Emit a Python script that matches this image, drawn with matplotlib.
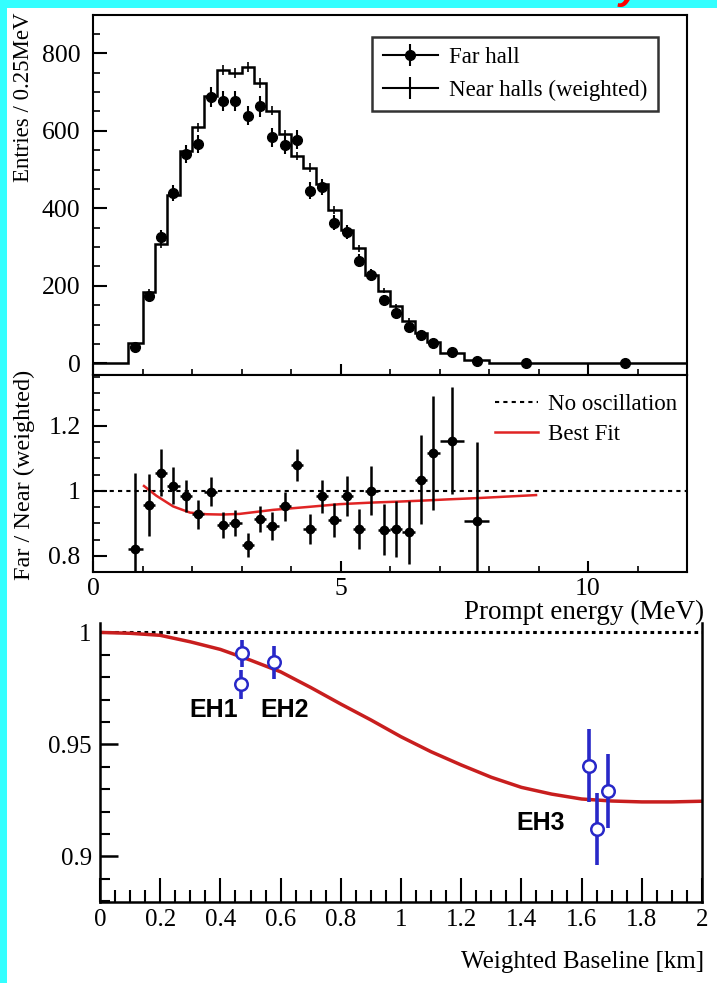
import matplotlib.pyplot as plt
from matplotlib.patches import Rectangle
from matplotlib.lines import Line2D
from matplotlib.ticker import MultipleLocator, FuncFormatter
import numpy as np

plt.rcParams['font.family'] = ['Liberation Serif', 'DejaVu Serif']

# --- spectrum (top panel) ---
bin_edges = [0.7, 1.0, 1.25, 1.5, 1.75, 2.0, 2.25, 2.5, 2.75, 3.0, 3.25, 3.5, 3.75,
             4.0, 4.25, 4.5, 4.75, 5.0, 5.25, 5.5, 5.75, 6.0, 6.25, 6.5, 6.75,
             7.0, 7.5, 8.0, 9.5, 12.0]
far_counts = [43, 175, 325, 439, 540, 566, 687, 676, 676, 639, 663, 583, 564, 577,
              446, 456, 363, 338, 265, 228, 164, 130, 95, 74, 52, 30, 7, 1, 0.5]
far_err = [7, 13, 18, 21, 23, 24, 26, 26, 26, 25, 26, 24, 24, 24, 21, 21, 19, 18,
           16, 15, 13, 11, 10, 9, 7, 5, 3, 1, 0.5]
near_counts = [52, 184, 308, 435, 548, 609, 689, 756, 749, 764, 723, 652, 591, 535,
               505, 463, 396, 343, 297, 228, 188, 147, 110, 79, 56, 28, 8, 2, 0.5]
near_err = [4, 8, 10, 11, 12, 12, 13, 13, 13, 13, 13, 12, 12, 11, 11, 11, 10, 9,
            9, 8, 7, 6, 6, 5, 4, 3, 2, 1, 0.5]

# --- far/near ratio (middle panel) ---
ratio_vals = [0.821, 0.957, 1.056, 1.016, 0.985, 0.928, 0.998, 0.895, 0.900, 0.832,
              0.914, 0.892, 0.952, 1.080, 0.883, 0.983, 0.911, 0.985, 0.883, 1.001,
              0.880, 0.882, 0.872, 1.034, 1.116, 1.155, 0.906]
ratio_err = [0.235, 0.096, 0.073, 0.058, 0.049, 0.045, 0.045, 0.040, 0.040, 0.037,
             0.040, 0.042, 0.046, 0.050, 0.046, 0.051, 0.053, 0.061, 0.062, 0.075,
             0.078, 0.086, 0.097, 0.137, 0.176, 0.165, 0.245]
fit_energy = [1.03, 1.28, 1.62, 1.96, 2.29, 2.6, 2.96, 3.64, 4.31, 4.98, 5.65, 6.19,
              6.66, 7.2, 7.74, 8.95]
fit_ratio = [1.015, 0.985, 0.952, 0.933, 0.928, 0.927, 0.929, 0.9415, 0.950, 0.959,
             0.964, 0.967, 0.970, 0.974, 0.9775, 0.987]

# --- survival vs baseline (bottom panel) ---
baseline_km = [0.472, 0.470, 0.579, 1.625, 1.652, 1.689]
hall_ratio = [0.9906, 0.9768, 0.9866, 0.9405, 0.9123, 0.9293]
hall_err = [0.0061, 0.0066, 0.0072, 0.0164, 0.0162, 0.0165]
fit_baseline = [0.0, 0.1, 0.2, 0.3, 0.4, 0.5, 0.6, 0.7, 0.8, 0.9, 1.0, 1.1, 1.2,
                1.3, 1.4, 1.5, 1.6, 1.7, 1.8, 1.9, 2.0]
fit_survival = [1.0, 0.9996, 0.9987, 0.9958, 0.9924, 0.9876, 0.9824, 0.9754, 0.968,
                0.9609, 0.9534, 0.9467, 0.9408, 0.9353, 0.9308, 0.9278, 0.9256,
                0.9247, 0.9243, 0.9243, 0.9246]
hall_labels = ['EH1', 'EH2', 'EH3']
hall_label_x = [0.379, 0.615, 1.465]
hall_label_y = [0.9653, 0.9653, 0.915]

edges = np.array(bin_edges)
centers = (edges[:-1] + edges[1:]) / 2
halfw = (edges[1:] - edges[:-1]) / 2
n_ratio = len(ratio_vals)

W, H = 717, 983
fig = plt.figure(figsize=(W / 100, H / 100), dpi=100)
fig.patch.set_facecolor('white')

ax1 = fig.add_axes([93 / W, 1 - 375 / H, 594 / W, 360 / H])
ax2 = fig.add_axes([93 / W, 1 - 572 / H, 594 / W, 197 / H])
ax3 = fig.add_axes([100 / W, 1 - 902 / H, 602 / W, 279 / H])

gfmt = FuncFormatter(lambda v, p: f'{v:g}')

# top panel
ax1.stairs([0] + near_counts, [0.0] + bin_edges, color='k', lw=1.8, baseline=None)
ax1.errorbar(centers, near_counts, yerr=near_err, fmt='none', ecolor='k', elinewidth=1.2)
ax1.errorbar(centers, far_counts, yerr=far_err, fmt='o', color='k', ms=7,
             elinewidth=1.5, capsize=0)
ax1.set_xlim(0, 12)
ax1.set_ylim(-30, 899)
ax1.xaxis.set_major_locator(MultipleLocator(5))
ax1.xaxis.set_minor_locator(MultipleLocator(1))
ax1.yaxis.set_major_locator(MultipleLocator(200))
ax1.yaxis.set_minor_locator(MultipleLocator(50))
ax1.tick_params(axis='x', labelbottom=False)
ax1.tick_params(axis='y', which='major', length=10, width=1.5, pad=9, labelsize=18.5)
ax1.tick_params(axis='y', which='minor', length=5, width=1.2)
ax1.tick_params(axis='x', which='major', length=8, width=1.5)
ax1.tick_params(axis='x', which='minor', length=4, width=1.2)
ax1.tick_params(which='both', direction='in')

far_handle = (Line2D([], [], color='k', lw=1.5, marker='o', ms=7),
              Line2D([], [], ls='none', color='k', marker='|', ms=16, mew=1.5))
near_handle = Line2D([], [], color='k', lw=1.5, marker='|', ms=16, mew=1.5)
leg1 = ax1.legend([far_handle, near_handle], ['Far hall', 'Near halls (weighted)'],
                  loc='upper right', bbox_to_anchor=(0.951, 0.939), borderaxespad=0,
                  frameon=True, fancybox=False, edgecolor='k', fontsize=16.5,
                  handlelength=2.4, borderpad=0.45, labelspacing=0.5,
                  handletextpad=0.5)
leg1.get_frame().set_linewidth(1.8)

# middle panel
ax2.axhline(1.0, color='k', ls=(0, (2, 2)), lw=1.5)
ax2.plot(fit_energy, fit_ratio, color='#e02424', lw=1.8)
ax2.errorbar(centers[:n_ratio], ratio_vals, xerr=halfw[:n_ratio], yerr=ratio_err,
             fmt='o', color='k', ms=6, elinewidth=1.8, capsize=0)
ax2.set_xlim(0, 12)
ax2.set_ylim(0.75, 1.357)
ax2.xaxis.set_major_locator(MultipleLocator(5))
ax2.xaxis.set_minor_locator(MultipleLocator(1))
ax2.yaxis.set_major_locator(MultipleLocator(0.2))
ax2.yaxis.set_minor_locator(MultipleLocator(0.05))
ax2.xaxis.set_major_formatter(gfmt)
ax2.yaxis.set_major_formatter(gfmt)
ax2.tick_params(which='both', direction='in', labelsize=18.5)
ax2.tick_params(axis='y', which='major', length=10, width=1.5, pad=9)
ax2.tick_params(axis='y', which='minor', length=5, width=1.2)
ax2.tick_params(axis='x', which='major', length=8, width=1.5, pad=4)
ax2.tick_params(axis='x', which='minor', length=4, width=1.2)
leg2 = ax2.legend([Line2D([], [], color='k', ls=(0, (2, 2)), lw=1.5),
                   Line2D([], [], color='#e02424', lw=1.8)],
                  ['No oscillation', 'Best Fit'], loc='upper right',
                  bbox_to_anchor=(0.998, 0.95), borderaxespad=0, frameon=False,
                  fontsize=16.5, handlelength=1.9, labelspacing=0.4,
                  handletextpad=0.4)

for ax in (ax1, ax2):
    for s in ax.spines.values():
        s.set_linewidth(1.5)

# bottom panel
ax3.plot([0, 2], [1, 1], color='k', ls=(0, (1.2, 1.2)), lw=2.2, clip_on=False)
ax3.plot(fit_baseline, fit_survival, color='#c81e1e', lw=2.5)
ax3.errorbar(baseline_km, hall_ratio, yerr=hall_err, fmt='o', mfc='white',
             mec='#2828c8', ecolor='#2828c8', ms=9, mew=1.8, elinewidth=2.6,
             capsize=0, zorder=4)
for lab, lx, ly in zip(hall_labels, hall_label_x, hall_label_y):
    ax3.text(lx, ly, lab, family=['Liberation Sans', 'DejaVu Sans'], weight='bold',
             fontsize=18, ha='center', va='center')
ax3.set_xlim(0, 2)
ax3.set_ylim(0.8796, 1.0042)
ax3.xaxis.set_major_locator(MultipleLocator(0.2))
ax3.xaxis.set_minor_locator(MultipleLocator(0.05))
ax3.yaxis.set_major_locator(MultipleLocator(0.05))
ax3.yaxis.set_minor_locator(MultipleLocator(0.01))
ax3.xaxis.set_major_formatter(gfmt)
ax3.yaxis.set_major_formatter(gfmt)
ax3.tick_params(which='both', direction='in', labelsize=18)
ax3.tick_params(axis='y', which='major', length=13, width=1.8, pad=6)
ax3.tick_params(axis='y', which='minor', length=7, width=1.5)
ax3.tick_params(axis='x', which='major', length=17, width=1.5, pad=5)
ax3.tick_params(axis='x', which='minor', length=9, width=1.5)
ax3.spines['top'].set_visible(False)
for s in ('left', 'bottom', 'right'):
    ax3.spines[s].set_linewidth(1.8)

# labels
fig.text(24 / W, 1 - 97 / H, 'Entries / 0.25MeV', rotation=90, ha='center',
         va='center', fontsize=16.5)
fig.text(24 / W, 1 - 475 / H, 'Far / Near (weighted)', rotation=90, ha='center',
         va='center', fontsize=17.5)
fig.text(704 / W, 1 - 612 / H, 'Prompt energy (MeV)', ha='right', va='center',
         fontsize=19.5)
fig.text(704 / W, 1 - 962 / H, 'Weighted Baseline [km]', ha='right', va='center',
         fontsize=18)

# cyan frame strips and the red banner text clipped by the top edge
fig.add_artist(Rectangle((0, 0), 7 / W, 1, transform=fig.transFigure,
                         facecolor='#33ffff', edgecolor='none', zorder=0))
fig.add_artist(Rectangle((0, 1 - 8 / H), 1, 8 / H, transform=fig.transFigure,
                         facecolor='#33ffff', edgecolor='none', zorder=0))
fig.text(641 / W, 1 + 1 / H, 'Preliminary', color='red', fontsize=28,
         style='italic', weight='bold', ha='right', va='baseline',
         family=['Liberation Sans', 'DejaVu Sans'], zorder=5)

fig.savefig('out.png', dpi=100)
